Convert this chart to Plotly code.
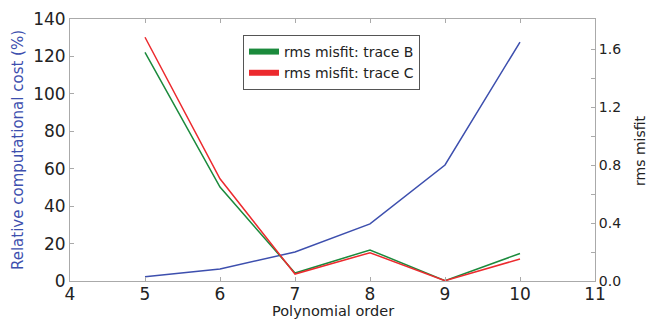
import plotly.graph_objects as go

orders = [5, 6, 7, 8, 9, 10]
cost_pct = [2.3, 6.4, 15.5, 30.5, 62.0, 127.7]
misfit_b = [1.577, 0.648, 0.055, 0.214, 0.002, 0.190]
misfit_c = [1.681, 0.705, 0.048, 0.195, 0.002, 0.152]

blue = "#3d4fae"
green = "#1b8a3c"
red = "#ec2a2e"
font = "DejaVu Sans"

fig = go.Figure()
fig.add_trace(go.Scatter(x=orders, y=cost_pct, mode="lines", line=dict(color=blue, width=1.5),
                         showlegend=False, yaxis="y"))
fig.add_trace(go.Scatter(x=orders, y=misfit_b, mode="lines", line=dict(color=green, width=1.5),
                         showlegend=False, yaxis="y2"))
fig.add_trace(go.Scatter(x=orders, y=misfit_c, mode="lines", line=dict(color=red, width=1.5),
                         showlegend=False, yaxis="y2"))
# legend entries with thick swatches
fig.add_trace(go.Scatter(x=[None], y=[None], mode="lines", line=dict(color=green, width=6),
                         name="rms misfit: trace B", yaxis="y2"))
fig.add_trace(go.Scatter(x=[None], y=[None], mode="lines", line=dict(color=red, width=6),
                         name="rms misfit: trace C", yaxis="y2"))

axcol = "#aaaaaa"
txt = "#222222"
fig.update_layout(
    width=647, height=320,
    margin=dict(l=70, r=52, t=19, b=39, autoexpand=False),
    paper_bgcolor="white", plot_bgcolor="white",
    font=dict(family=font, color=txt),
    xaxis=dict(range=[4, 11], dtick=1, tick0=4, ticks="inside", ticklen=4, tickcolor=axcol,
               showline=True, linecolor=axcol, mirror="ticks", showgrid=False, zeroline=False,
               automargin=False, ticklabelstandoff=-2,
               tickfont=dict(size=17, color=txt)),
    yaxis=dict(range=[0, 140], dtick=20, ticks="inside", ticklen=4, tickcolor=axcol,
               showline=True, linecolor=axcol, showgrid=False, zeroline=False,
               automargin=False,
               tickfont=dict(size=17, color=txt)),
    yaxis2=dict(range=[0, 1.807], overlaying="y", side="right", tickvals=[0, 0.4, 0.8, 1.2, 1.6],
                ticktext=["0.0", "0.4", "0.8", "1.2", "1.6"],
                ticks="inside", ticklen=4, tickcolor=axcol,
                minor=dict(tickvals=[0.2, 0.6, 1.0, 1.4], ticks="inside", ticklen=4, tickcolor=axcol),
                showline=True, linecolor=axcol, showgrid=False, zeroline=False,
                automargin=False, ticklabelstandoff=0,
                tickfont=dict(size=14, color=txt)),
    legend=dict(x=0.3295, y=0.939, xanchor="left", yanchor="top", bgcolor="white",
                bordercolor="#555555", borderwidth=1, font=dict(size=14, color=txt),
                tracegroupgap=0, itemwidth=30),
    annotations=[
        dict(text="Polynomial order", xref="paper", yref="paper", x=0.5, y=-0.1489,
             xanchor="center", yanchor="bottom", showarrow=False, borderpad=0,
             font=dict(size=14.5, color=txt)),
        dict(text="Relative computational cost (%)", xref="paper", yref="paper", x=-0.099, y=0.5,
             xanchor="center", yanchor="middle", textangle=-90, showarrow=False,
             font=dict(size=15, color=blue)),
        dict(text="rms misfit", xref="paper", yref="paper", x=1.0857, y=0.5,
             xanchor="center", yanchor="middle", textangle=-90, showarrow=False,
             font=dict(size=14, color=txt)),
    ],
)

fig.write_html("out.html")
